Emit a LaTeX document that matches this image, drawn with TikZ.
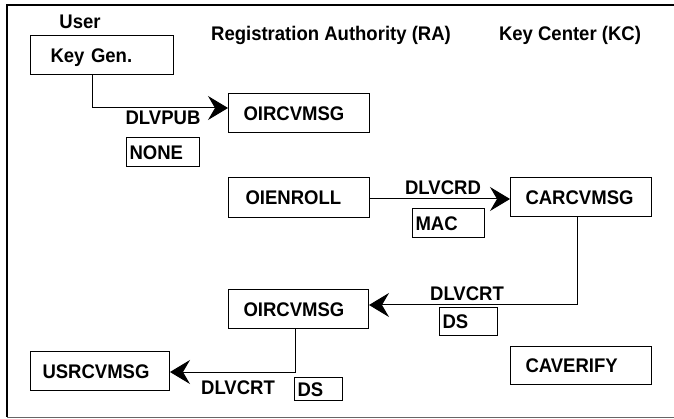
\documentclass[tikz,border=0pt]{standalone}
\usepackage{fontspec}
\setmainfont{Liberation Sans}
\newfontfamily\heavyfont{Liberation Sans Bold}[FakeStretch=0.94]
\usetikzlibrary{arrows.meta}
\begin{document}
\begin{tikzpicture}[x=1pt,y=-1pt,
  every node/.style={font=\heavyfont\fontsize{19.7}{23}\selectfont, text height=14.1pt, text depth=0pt, inner sep=0pt},
  box/.style={draw, line width=1pt, anchor=north west, align=left},
  tag/.style={draw, line width=1pt, anchor=north west, align=left, inner xsep=3pt},
  conn/.style={line width=1pt, -{Stealth[length=20pt,width=24pt,inset=7pt]}},
  frame/.style={line width=2pt}
]
\useasboundingbox (0,0) rectangle (674,419);
\draw[frame] (674,5) -- (7,5) -- (7,417);
\draw[line width=1pt, black!60] (7,417) -- (674,417);

% headings
\node (user) at (80,21.5) {User};
\node (ra) at (331,33) {Registration Authority (RA)};
\node (kc) at (570,33) {Key Center (KC)};

% process boxes
\node[box, inner xsep=20pt, text width=103pt, minimum height=39pt] (keygen) at (30,35) {Key Gen.};
\node[box, inner xsep=15pt, text width=111pt, minimum height=39pt] (oir1) at (228,93) {OIRCVMSG};
\node[box, inner xsep=17pt, text width=107pt, minimum height=40pt] (oienroll) at (228,177) {OIENROLL};
\node[box, inner xsep=15pt, text width=111pt, minimum height=39pt] (carcv) at (510,177) {CARCVMSG};
\node[box, inner xsep=15pt, text width=110pt, minimum height=39pt] (oir2) at (228,289) {OIRCVMSG};
\node[box, inner xsep=12pt, text width=115pt, minimum height=39pt] (usr) at (30,351) {USRCVMSG};
\node[box, inner xsep=15pt, text width=111pt, minimum height=38pt] (caver) at (510,346) {CAVERIFY};

% tag boxes
\node[tag, text width=67pt, minimum height=29pt] (none) at (126,137) {NONE};
\node[tag, text width=66pt, minimum height=29pt] (mac) at (412,208) {MAC};
\node[tag, text width=52pt, minimum height=28pt] (ds1) at (439,307) {DS};
\node[tag, text width=42pt, minimum height=23pt] (ds2) at (294,377) {DS};

% connector labels
\node (l1) at (163,117) {DLVPUB};
\node (l2) at (443,187) {DLVCRD};
\node (l3) at (467,293.5) {DLVCRT};
\node (l4) at (238,387.5) {DLVCRT};

% connectors
\coordinate (k1) at (92,108);
\coordinate (k2) at (0,199);
\coordinate (k3) at (577,305);
\coordinate (k4) at (295,372);
\draw[conn] (keygen.south -| k1) |- (oir1.west |- k1);
\draw[conn] (oienroll.east |- k2) -- (carcv.west |- k2);
\draw[conn] (carcv.south -| k3) |- (oir2.east |- k3);
\draw[conn] (oir2.south -| k4) |- (usr.east |- k4);
\end{tikzpicture}
\end{document}
